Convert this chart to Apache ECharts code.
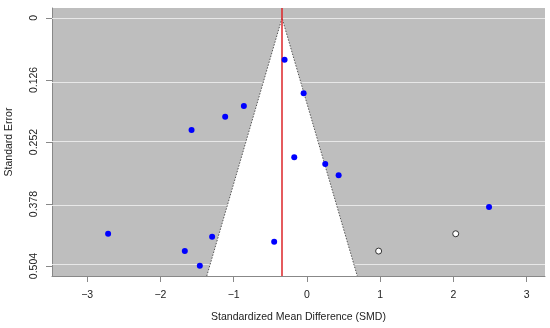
<!DOCTYPE html>
<html>
<head>
<meta charset="utf-8">
<script src="https://cdn.jsdelivr.net/npm/echarts@6/dist/echarts.min.js"></script>
<style>html,body{margin:0;padding:0;background:#fff}#c{width:550px;height:328px}</style>
</head>
<body>
<div id="c"></div>
<script>
// observed studies
const effect = [-0.305, -0.045, -0.861, -1.116, -1.575, -0.173, 0.25, 0.433, 2.486, -2.714, -1.294, -0.447, -1.667, -1.462];
const stdErr = [0.085, 0.153, 0.179, 0.2005, 0.2276, 0.283, 0.2967, 0.3197, 0.384, 0.4384, 0.4445, 0.4546, 0.4736, 0.5034];
// imputed (trim-and-fill) studies
const effectFilled = [2.031, 0.979];
const stdErrFilled = [0.4384, 0.4736];
// pooled estimate
const estimate = -0.34;
// ticks
const xTicks = [-3, -2, -1, 0, 1, 2, 3];
const yTicks = [0, 0.126, 0.252, 0.378, 0.504];
const xRange = [-3.48, 3.25];
const yRange = [-0.0202, 0.5242];

const FONT = 'Liberation Sans, Arial, sans-serif';
const chart = echarts.init(document.getElementById('c'), null, {renderer: 'canvas'});

const obs = effect.map((v, i) => [v, stdErr[i]]);
const filled = effectFilled.map((v, i) => [v, stdErrFilled[i]]);

chart.setOption({
  animation: false,
  textStyle: {fontFamily: FONT},
  grid: {left: 52, top: 8, right: 5, bottom: 52, show: true, backgroundColor: '#bebebe', borderWidth: 0,
    containLabel: false, outerBoundsMode: 'none'},
  xAxis: {
    type: 'value', min: xRange[0], max: xRange[1],
    name: 'Standardized Mean Difference (SMD)', nameLocation: 'middle', nameGap: 36,
    nameTextStyle: {fontFamily: FONT, fontSize: 10.5, color: '#222'},
    axisLine: {show: true, onZero: false, lineStyle: {color: '#888', width: 1}},
    axisTick: {show: true, length: 6, customValues: xTicks, lineStyle: {color: '#888'}},
    axisLabel: {customValues: xTicks, margin: 14, fontFamily: FONT, fontSize: 10.5, color: '#222',
      formatter: v => (v < 0 ? '\u2212' + Math.abs(v) : String(v))},
    splitLine: {show: false}
  },
  yAxis: {
    type: 'value', inverse: true, min: yRange[0], max: yRange[1],
    name: 'Standard Error', nameLocation: 'middle', nameGap: 37, nameRotate: 90,
    nameTextStyle: {fontFamily: FONT, fontSize: 10.5, color: '#222'},
    axisLine: {show: true, onZero: false, lineStyle: {color: '#888', width: 1}},
    axisTick: {show: true, length: 6, customValues: yTicks, lineStyle: {color: '#888'}},
    axisLabel: {customValues: yTicks, rotate: 90, margin: 12, fontFamily: FONT, fontSize: 10.5, color: '#222',
      formatter: v => String(v)},
    splitLine: {show: false}
  },
  series: [
    {
      // horizontal reference lines at the tick values
      type: 'line', data: [], z: 1, silent: true,
      markLine: {
        silent: true, symbol: 'none', label: {show: false}, z: 1,
        lineStyle: {color: '#e8e8e8', width: 1.2, type: 'solid'},
        data: yTicks.map(t => ({yAxis: t}))
      }
    },
    {
      type: 'custom',
      silent: true,
      z: 2,
      clip: true,
      data: [[estimate, yRange[1]]],
      renderItem: function (params, api) {
        const est = api.value(0);
        const seMax = api.value(1);
        const apex = api.coord([est, 0]);
        const l = api.coord([est - 1.96 * seMax, seMax]);
        const r = api.coord([est + 1.96 * seMax, seMax]);
        return {
          type: 'group',
          children: [
            {type: 'polygon', shape: {points: [l, apex, r]}, style: {fill: '#ffffff', stroke: null}},
            {type: 'polyline', shape: {points: [l, apex, r]}, style: {fill: null, stroke: '#555', lineWidth: 1, lineDash: [1.5, 1.5]}}
          ]
        };
      },
      markLine: {
        silent: true, symbol: 'none', label: {show: false}, z: 3,
        lineStyle: {color: '#dd2528', width: 1.5, type: 'solid'},
        data: [{xAxis: estimate}]
      }
    },
    {
      type: 'scatter', z: 4,
      symbol: 'circle', symbolSize: 6,
      itemStyle: {color: '#0000ff', opacity: 1},
      data: obs
    },
    {
      type: 'scatter', z: 4,
      symbol: 'circle', symbolSize: 6,
      itemStyle: {color: '#ffffff', borderColor: '#333', borderWidth: 1, opacity: 1},
      data: filled
    }
  ]
});
</script>
</body>
</html>
